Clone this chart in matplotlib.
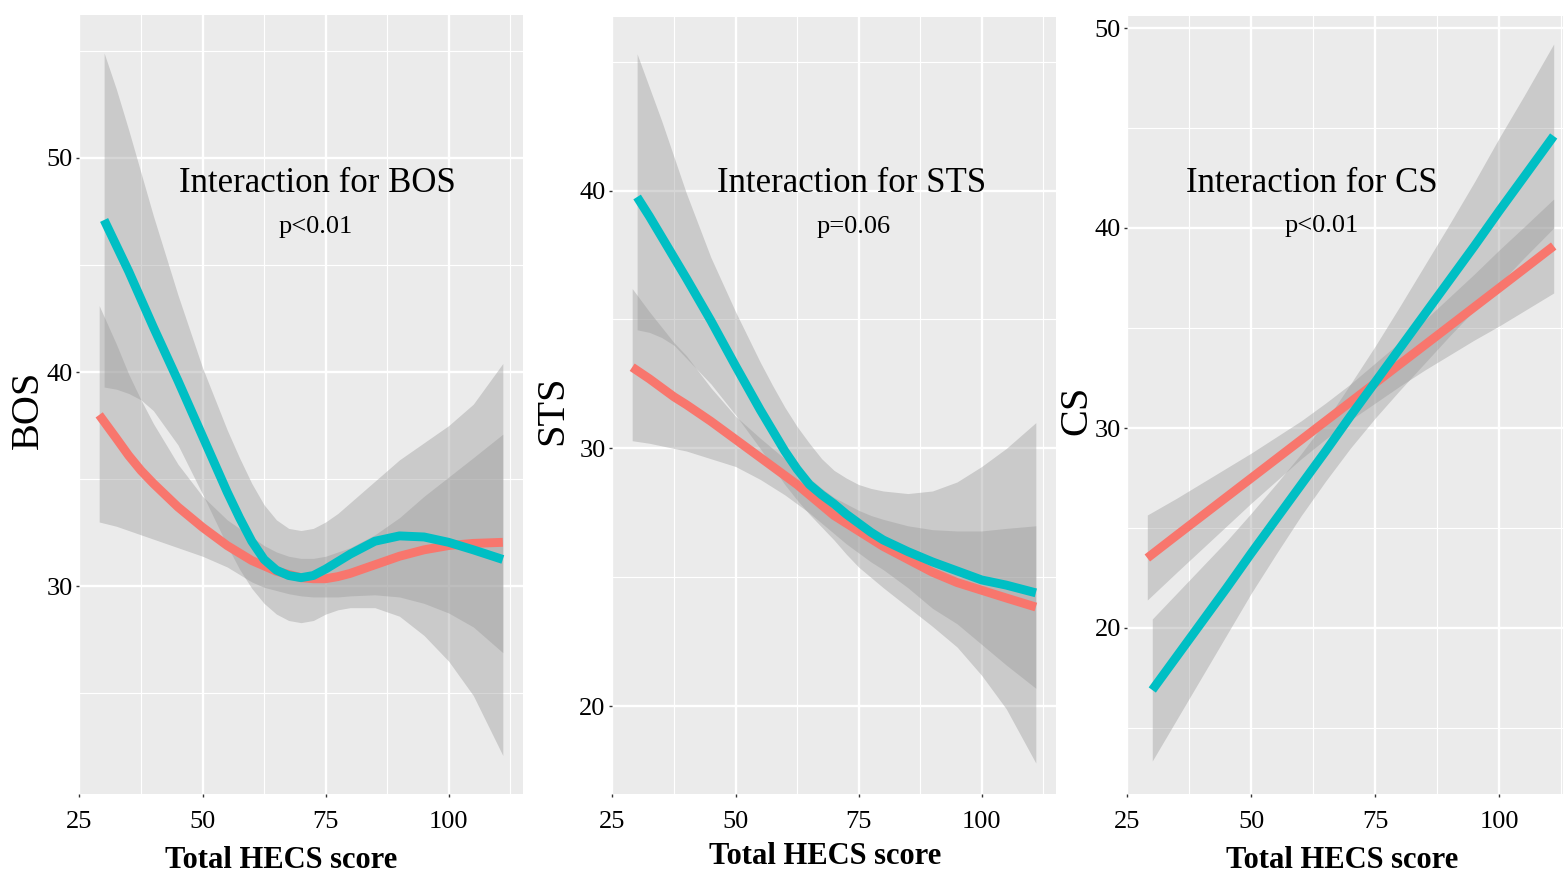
import matplotlib.pyplot as plt

plt.rcParams['font.family'] = ['Liberation Serif', 'DejaVu Serif']

# x positions (Total HECS score) the curves were read at
x_fine_red = [29, 32.5, 35, 37.5, 40, 45, 50, 55, 57.5, 60, 62.5, 65, 67.5, 70,
              72.5, 75, 77.5, 80, 85, 90, 95, 100, 105, 111]
x_fine_teal = [30, 32.5, 35, 37.5, 40, 45, 50, 55, 57.5, 60, 62.5, 65, 67.5, 70,
               72.5, 75, 77.5, 80, 85, 90, 95, 100, 105, 111]
x_red = [29, 35, 40, 45, 50, 55, 60, 65, 70, 75, 80, 85, 90, 95, 100, 105, 111]
x_teal = [30, 35, 40, 45, 50, 55, 60, 65, 70, 75, 80, 85, 90, 95, 100, 105, 111]

# BOS
bos_red = [38.0, 36.9, 36.1, 35.4, 34.8, 33.7, 32.75, 31.9, 31.55, 31.2, 30.95, 30.7, 30.55, 30.4,
           30.35, 30.35, 30.45, 30.6, 31.0, 31.4, 31.7, 31.9, 32.0, 32.05]
bos_red_lo = [33.0, 32.8, 32.6, 32.4, 32.2, 31.8, 31.4, 30.9, 30.55, 30.2, 29.95, 29.8, 29.65, 29.55,
              29.5, 29.5, 29.5, 29.55, 29.6, 29.5, 29.2, 28.75, 28.1, 26.9]
bos_red_hi = [43.1, 41.3, 39.9, 38.7, 37.6, 35.7, 34.2, 33.1, 32.7, 32.3, 31.9, 31.6, 31.4, 31.3,
              31.3, 31.4, 31.6, 31.8, 32.4, 33.2, 34.2, 35.1, 36.0, 37.1]
bos_teal = [47.1, 45.9, 44.7, 43.4, 42.1, 39.6, 37.0, 34.4, 33.2, 32.1, 31.25, 30.75, 30.5, 30.4,
            30.5, 30.8, 31.15, 31.5, 32.1, 32.35, 32.3, 32.05, 31.7, 31.25]
bos_teal_lo = [39.3, 39.2, 39.0, 38.7, 38.2, 36.6, 34.3, 31.9, 30.8, 29.9, 29.2, 28.7, 28.4, 28.3,
               28.4, 28.7, 28.9, 29.0, 29.0, 28.6, 27.7, 26.5, 24.9, 22.1]
bos_teal_hi = [54.9, 53.2, 51.3, 49.3, 47.3, 43.6, 40.2, 37.3, 36.0, 34.8, 33.8, 33.1, 32.7, 32.6,
               32.7, 33.0, 33.4, 33.9, 34.9, 35.9, 36.7, 37.5, 38.5, 40.4]

# STS
sts_red = [33.15, 32.7, 32.35, 32.0, 31.7, 31.05, 30.35, 29.65, 29.3, 28.95, 28.6, 28.2, 27.8, 27.4,
           27.1, 26.8, 26.5, 26.2, 25.7, 25.2, 24.8, 24.5, 24.2, 23.85]
sts_red_lo = [30.3, 30.2, 30.1, 30.0, 29.9, 29.6, 29.3, 28.8, 28.5, 28.2, 27.85, 27.5, 27.1, 26.7,
              26.3, 25.95, 25.6, 25.3, 24.6, 23.8, 23.2, 22.4, 21.6, 20.7]
sts_red_hi = [36.2, 35.3, 34.7, 34.1, 33.6, 32.35, 31.25, 30.4, 30.0, 29.6, 29.2, 28.85, 28.45, 28.1,
              27.85, 27.6, 27.4, 27.25, 27.0, 26.85, 26.8, 26.8, 26.9, 27.0]
sts_teal = [39.75, 39.0, 38.2, 37.4, 36.6, 34.95, 33.2, 31.5, 30.7, 29.9, 29.2, 28.6, 28.2, 27.85,
            27.45, 27.1, 26.75, 26.45, 26.0, 25.6, 25.25, 24.9, 24.7, 24.4]
sts_teal_lo = [34.6, 34.5, 34.3, 34.0, 33.5, 32.5, 31.3, 30.0, 29.3, 28.6, 28.0, 27.45, 26.95, 26.45,
               25.9, 25.4, 25.0, 24.6, 23.85, 23.1, 22.3, 21.2, 19.9, 17.8]
sts_teal_hi = [45.3, 44.0, 42.7, 41.3, 39.9, 37.4, 35.3, 33.35, 32.45, 31.6, 30.85, 30.2, 29.6, 29.15,
               28.85, 28.6, 28.45, 28.35, 28.25, 28.35, 28.7, 29.3, 30.0, 31.0]

# CS
cs_red = [23.5, 24.65, 25.6, 26.55, 27.5, 28.45, 29.4, 30.35, 31.3, 32.25, 33.2, 34.15, 35.1, 36.05, 37.0, 37.95, 39.1]
cs_red_lo = [21.4, 22.8, 23.95, 25.1, 26.25, 27.35, 28.45, 29.45, 30.4, 31.25, 32.1, 32.9, 33.65, 34.4, 35.1, 35.85, 36.75]
cs_red_hi = [25.65, 26.5, 27.25, 28.0, 28.75, 29.55, 30.35, 31.25, 32.2, 33.25, 34.3, 35.4, 36.55, 37.7, 38.9, 40.05, 41.45]
cs_teal = [16.9, 18.6, 20.3, 22.0, 23.75, 25.45, 27.15, 28.85, 30.6, 32.3, 34.0, 35.7, 37.4, 39.1, 40.85, 42.55, 44.6]
cs_teal_lo = [13.35, 15.45, 17.55, 19.65, 21.75, 23.7, 25.6, 27.35, 29.0, 30.5, 31.9, 33.25, 34.6, 35.9, 37.2, 38.5, 40.0]
cs_teal_hi = [20.45, 21.75, 23.05, 24.35, 25.75, 27.2, 28.7, 30.35, 32.2, 34.1, 36.1, 38.15, 40.2, 42.3, 44.5, 46.6, 49.2]

panels = [
    ('BOS', 'Interaction for BOS', 'p<0.01', x_fine_red, x_fine_teal,
     bos_red, bos_red_lo, bos_red_hi, bos_teal, bos_teal_lo, bos_teal_hi),
    ('STS', 'Interaction for STS', 'p=0.06', x_fine_red, x_fine_teal,
     sts_red, sts_red_lo, sts_red_hi, sts_teal, sts_teal_lo, sts_teal_hi),
    ('CS', 'Interaction for CS', 'p<0.01', x_red, x_teal,
     cs_red, cs_red_lo, cs_red_hi, cs_teal, cs_teal_lo, cs_teal_hi),
]

RED = '#F8766D'
TEAL = '#00BFC4'
W, H = 1563, 873

# pixel boxes (left, right, top, bottom) and y ranges of each panel
boxes = [(79, 523, 15, 794), (612, 1056, 17, 794), (1127, 1574, 16, 794)]
ylims = [(20.3, 56.67), (16.6, 46.73), (11.7, 50.6)]
yticks = [[30, 40, 50], [20, 30, 40], [20, 30, 40, 50]]
yminor = [[25, 35, 45, 55], [25, 35, 45], [15, 25, 35, 45]]
title_pos = [(73.4, 48.8, 46.75), (73.5, 40.27, 38.57), (62.1, 42.24, 40.09)]
sub_x = [73.0, 73.9, 64.1]
ylab_x = [28, 553, 1077]
xlab_pos = [(281, 860), (825, 857), (1342, 860)]

fig = plt.figure(figsize=(W / 100, H / 100), dpi=100)

for i, (name, title, ptxt, xr, xt, r, rlo, rhi, t, tlo, thi) in enumerate(panels):
    l, rr, tp, bt = boxes[i]
    ax = fig.add_axes([l / W, 1 - bt / H, (rr - l) / W, (bt - tp) / H])
    ax.set_facecolor('#EBEBEB')
    for s in ax.spines.values():
        s.set_visible(False)

    # ggplot draws ribbon then line for each group, red group first
    ax.fill_between(xr, rlo, rhi, color='#999999', alpha=0.4, lw=0)
    ax.plot(xr, r, color=RED, lw=6.4, solid_capstyle='butt', solid_joinstyle='round')
    ax.fill_between(xt, tlo, thi, color='#999999', alpha=0.4, lw=0)
    ax.plot(xt, t, color=TEAL, lw=6.4, solid_capstyle='butt', solid_joinstyle='round')

    ax.set_xlim(24.9, 115.1)
    ax.set_ylim(*ylims[i])
    ax.set_xticks([25, 50, 75, 100])
    ax.set_xticks([37.5, 62.5, 87.5, 112.5], minor=True)
    ax.set_yticks(yticks[i])
    ax.set_yticks(yminor[i], minor=True)
    ax.grid(which='major', color='white', lw=1.7)
    ax.grid(which='minor', color='white', lw=0.8)
    ax.set_axisbelow(True)
    ax.tick_params(which='minor', length=0)
    ax.tick_params(which='major', length=2.5, width=1, color='#333333',
                   labelsize=19, labelcolor='black')
    ax.tick_params(axis='y', pad=2)
    ax.tick_params(axis='x', pad=10)

    tx, ty, sy = title_pos[i]
    ax.text(tx, ty, title, ha='center', va='center', fontsize=25)
    ax.text(sub_x[i], sy, ptxt, ha='center', va='center', fontsize=19)

    fig.text(ylab_x[i] / W, 1 - 410 / H, name, rotation=90, ha='center',
             va='center', fontsize=29)
    fig.text(xlab_pos[i][0] / W, 1 - xlab_pos[i][1] / H, 'Total HECS score',
             ha='center', va='center', fontsize=22, fontweight='bold')

fig.savefig('out.png', dpi=100)
